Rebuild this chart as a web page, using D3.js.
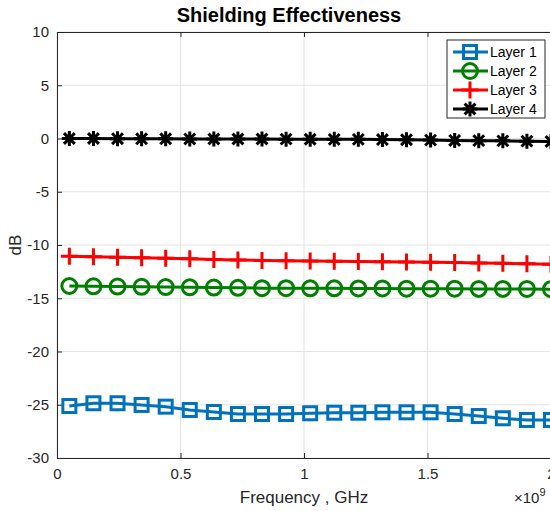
<!DOCTYPE html>
<html>
<head>
<meta charset="utf-8">
<script src="https://cdn.jsdelivr.net/npm/d3@7"></script>
<style>
  body { margin: 0; background: #fff; }
  svg { display: block; font-family: "Liberation Sans", Arial, sans-serif; }
</style>
</head>
<body>
<svg id="chart" width="550" height="511"></svg>
<script>
"use strict"
// Shielding effectiveness of four layers vs frequency (GHz, axis in 1e9 units)

var freq = [0.05, 0.1475, 0.245, 0.3425, 0.44, 0.5375, 0.635, 0.7325, 0.83, 0.9275, 1.025,
            1.1225, 1.22, 1.3175, 1.415, 1.5125, 1.61, 1.7075, 1.805, 1.9025, 2.0];

var layer1 = [-25.12, -24.86, -24.86, -25.02, -25.18, -25.49, -25.68, -25.87, -25.87, -25.87, -25.80,
              -25.75, -25.75, -25.71, -25.71, -25.71, -25.87, -26.06, -26.27, -26.43, -26.43];
var layer2 = [-13.85, -13.88, -13.90, -13.93, -13.95, -13.97, -14.00, -14.02, -14.05, -14.05, -14.07,
              -14.07, -14.08, -14.08, -14.10, -14.10, -14.10, -14.12, -14.12, -14.13, -14.15];
var layer3 = [-11.05, -11.10, -11.15, -11.20, -11.25, -11.30, -11.35, -11.40, -11.45, -11.47, -11.50,
              -11.52, -11.55, -11.57, -11.60, -11.62, -11.65, -11.70, -11.72, -11.75, -11.80];
var layer4 = [0.00, 0.00, -0.02, -0.03, -0.03, -0.04, -0.05, -0.05, -0.05, -0.06, -0.07,
              -0.08, -0.08, -0.10, -0.12, -0.15, -0.18, -0.20, -0.22, -0.25, -0.28];

var seriesNames = ["Layer 1", "Layer 2", "Layer 3", "Layer 4"];
var xTicks = [0, 0.5, 1, 1.5, 2];
var yTicks = [-30, -25, -20, -15, -10, -5, 0, 5, 10];

var svg = d3.select("svg#chart"),
    margin = {top: 32, left: 57, right: 551, bottom: 458},
    axisColor = "#262626";

var x = d3.scaleLinear().domain([0, 2]).range([margin.left, margin.right]),
    y = d3.scaleLinear().domain([-30, 10]).range([margin.bottom, margin.top]);

var styles = [
  {color: "#0072BD", marker: "square"},
  {color: "#008000", marker: "circle"},
  {color: "#FF0000", marker: "plus"},
  {color: "#000000", marker: "star"}
];
var allSeries = [layer1, layer2, layer3, layer4];

// grid
var grid = svg.append("g").attr("stroke", "#e3e3e3").attr("stroke-width", 1);
xTicks.forEach(function(t) {
  grid.append("line").attr("x1", x(t)).attr("x2", x(t)).attr("y1", margin.top).attr("y2", margin.bottom);
});
yTicks.forEach(function(t) {
  grid.append("line").attr("x1", margin.left).attr("x2", margin.right).attr("y1", y(t)).attr("y2", y(t));
});

// axes (MATLAB style: ticks inward, plain hyphen minus)
var plain = function(d) { return String(d); };
var xAxis = svg.append("g")
  .attr("transform", "translate(0," + margin.bottom + ")")
  .call(d3.axisBottom(x).tickValues(xTicks).tickSizeInner(-5).tickSizeOuter(0).tickPadding(10)
        .tickFormat(plain));
var yAxis = svg.append("g")
  .attr("transform", "translate(" + margin.left + ",0)")
  .call(d3.axisLeft(y).tickValues(yTicks).tickSizeInner(-5).tickSizeOuter(0).tickPadding(8)
        .tickFormat(plain));
var xTop = svg.append("g")
  .attr("transform", "translate(0," + margin.top + ")")
  .call(d3.axisTop(x).tickValues(xTicks).tickSizeInner(-5).tickSizeOuter(0).tickFormat(""));

[xAxis, yAxis, xTop].forEach(function(a) {
  a.selectAll("path.domain").attr("stroke", axisColor);
  a.selectAll(".tick line").attr("stroke", axisColor);
  a.selectAll(".tick text").attr("fill", axisColor).style("font-size", "15px")
    .style("font-family", "'Liberation Sans', Arial, sans-serif");
});

// marker drawing
function drawMarker(g, type, cx, cy, color) {
  if (type === "square") {
    g.append("rect").attr("x", cx - 6.5).attr("y", cy - 6.5).attr("width", 13).attr("height", 13)
      .attr("fill", "none").attr("stroke", color).attr("stroke-width", 3);
  } else if (type === "circle") {
    g.append("circle").attr("cx", cx).attr("cy", cy).attr("r", 7.5)
      .attr("fill", "none").attr("stroke", color).attr("stroke-width", 3);
  } else if (type === "plus") {
    g.append("path").attr("d", "M" + cx + "," + (cy - 8.5) + "V" + (cy + 8.5) + "M" + (cx - 8.5) + "," + cy + "H" + (cx + 8.5))
      .attr("stroke", color).attr("stroke-width", 3).attr("fill", "none");
  } else {
    var r = 7.5, d = r * 0.72;
    g.append("path").attr("d",
      "M" + cx + "," + (cy - r) + "V" + (cy + r) +
      "M" + (cx - r) + "," + cy + "H" + (cx + r) +
      "M" + (cx - d) + "," + (cy - d) + "L" + (cx + d) + "," + (cy + d) +
      "M" + (cx - d) + "," + (cy + d) + "L" + (cx + d) + "," + (cy - d))
      .attr("stroke", color).attr("stroke-width", 3).attr("fill", "none");
  }
}

var line = d3.line().x(function(d) { return x(d[0]); }).y(function(d) { return y(d[1]); });

allSeries.forEach(function(vals, i) {
  var pts = freq.map(function(f, j) { return [f, vals[j]]; });
  var g = svg.append("g");
  g.append("path").datum(pts).attr("d", line)
    .attr("fill", "none").attr("stroke", styles[i].color).attr("stroke-width", 3);
  pts.forEach(function(p) { drawMarker(g, styles[i].marker, x(p[0]), y(p[1]), styles[i].color); });
});

// legend
var leg = svg.append("g");
leg.append("rect").attr("x", 447).attr("y", 40).attr("width", 98).attr("height", 78)
  .attr("fill", "#fff").attr("stroke", axisColor).attr("stroke-width", 1);
seriesNames.forEach(function(name, i) {
  var ly = 52 + i * 19;
  leg.append("line").attr("x1", 453).attr("x2", 488).attr("y1", ly).attr("y2", ly)
    .attr("stroke", styles[i].color).attr("stroke-width", 3);
  drawMarker(leg, styles[i].marker, 470, ly, styles[i].color);
  leg.append("text").attr("x", 490).attr("y", ly + 5).text(name)
    .style("font-size", "14px").attr("fill", "#000");
});

// title and labels
svg.append("text").attr("x", 289).attr("y", 22).attr("text-anchor", "middle")
  .style("font-size", "20px").style("font-weight", "bold").attr("fill", "#000")
  .text("Shielding Effectiveness");
svg.append("text").attr("transform", "translate(21,245) rotate(-90)").attr("text-anchor", "middle")
  .style("font-size", "17px").attr("fill", axisColor).text("dB");
svg.append("text").attr("x", 304).attr("y", 503).attr("text-anchor", "middle")
  .style("font-size", "17px").attr("fill", axisColor).text("Frequency , GHz");
var exp = svg.append("text").attr("x", 514).attr("y", 503).style("font-size", "15px").attr("fill", axisColor);
exp.append("tspan").text("\u00d710");
exp.append("tspan").attr("dy", -7).style("font-size", "11px").text("9");
</script>
</body>
</html>
